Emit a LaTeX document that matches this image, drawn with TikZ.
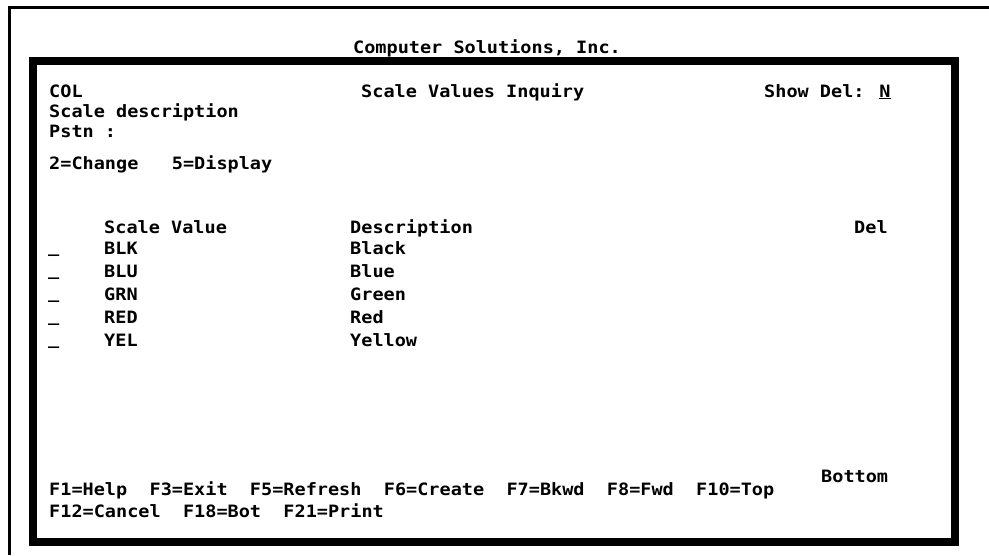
\documentclass[tikz,border=0pt]{standalone}
\usepackage{fontspec}
\usepackage{xcolor}
\usepackage{tikz}
\usetikzlibrary{positioning}
\newfontfamily\scrfont[FakeStretch=1.09]{DejaVu Sans Mono}
\definecolor{colInk}{HTML}{000000}
\tikzset{
  scrtext/.style={
    anchor=base west, inner sep=0pt, text=colInk,
    font={\scrfont\bfseries\fontsize{17}{20}\selectfont}
  },
  % frames of the printed screen
  pageline/.style={draw=colInk, line width=3pt},
  screenbox/.style={draw=colInk, line width=8pt}
}

\begin{document}
\begin{tikzpicture}[x=1pt, y=-1pt]
  \useasboundingbox (0,0) rectangle (989,555);
  \draw[pageline] (9.5,555) -- (9.5,7.5) -- (989,7.5);
  \node[scrtext, anchor=base] (title) at (487,53) {Computer Solutions, Inc.};
  \draw[screenbox] (33,61) rectangle (955,542);
  % header
  \node[scrtext] (file)  at (49,97)  {COL};
  \node[scrtext] (head)  at (361,97) {Scale Values Inquiry};
  \node[scrtext] (show)  at (764,97) {Show Del: \underline{N}};
  \node[scrtext] (sdesc) at (49,117) {Scale description};
  \node[scrtext] (pstn)  at (49,137) {Pstn :};
  \node[scrtext] (opts)  at (49,169) {2=Change~~~5=Display};
  % list
  \node[scrtext] (colval)  at (104,233) {Scale Value};
  \node[scrtext] (coldesc) at (350,233) {Description};
  \node[scrtext] (coldel)  at (854,233) {Del};
  \foreach \code/\desc [count=\i] in {BLK/Black, BLU/Blue, GRN/Green, RED/Red, YEL/Yellow}{
    \node[scrtext] (sel\i)  at (48,{252.5+23*(\i-1)})  {\_};
    \node[scrtext] (val\i)  at (104,{254.5+23*(\i-1)}) {\code};
    \node[scrtext] (desc\i) at (350,{254.5+23*(\i-1)}) {\desc};
  }
  % footer
  \node[scrtext] (more) at (821,482) {Bottom};
  \node[scrtext] (keys1) at (49,495) {F1=Help~~F3=Exit~~F5=Refresh~~F6=Create~~F7=Bkwd~~F8=Fwd~~F10=Top};
  \node[scrtext] (keys2) at (49,517) {F12=Cancel~~F18=Bot~~F21=Print};
\end{tikzpicture}
\end{document}
